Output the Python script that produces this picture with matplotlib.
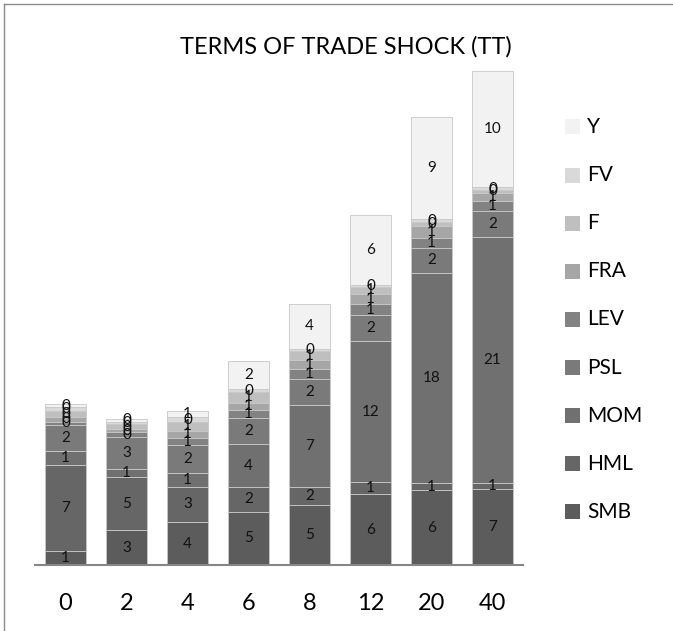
import matplotlib
matplotlib.use('Agg')
import matplotlib.pyplot as plt
from matplotlib.patches import Rectangle
from matplotlib.lines import Line2D

plt.rcParams['font.family'] = ['Lato', 'DejaVu Sans']

# horizons
periods = ['0', '2', '4', '6', '8', '12', '20', '40']

# variance shares per factor
smb = [1.2, 3.0, 3.7, 4.6, 5.2, 6.1, 6.45, 6.55]
hml = [7.45, 4.6, 3.05, 2.15, 1.52, 1.03, 0.63, 0.55]
mom = [1.2, 0.64, 1.2, 3.65, 7.1, 12.2, 18.1, 21.2]
psl = [2.2, 2.76, 2.39, 2.24, 2.24, 2.18, 2.19, 2.2]
lev = [0.3, 0.43, 0.6, 0.72, 0.86, 0.98, 0.82, 0.9]
fra = [0.45, 0.29, 0.65, 0.63, 0.72, 0.91, 1.07, 0.7]
f = [0.45, 0.4, 0.7, 0.95, 0.8, 0.6, 0.31, 0.2]
fv = [0.35, 0.23, 0.45, 0.2, 0.2, 0.17, 0.25, 0.25]
y = [0.3, 0.23, 0.55, 2.44, 3.9, 5.96, 8.78, 10.0]

names = ['SMB', 'HML', 'MOM', 'PSL', 'LEV', 'FRA', 'F', 'FV', 'Y']
series = [smb, hml, mom, psl, lev, fra, f, fv, y]
colors = ['#5c5c5c', '#666666', '#707070', '#7a7a7a', '#828282',
          '#a6a6a6', '#bfbfbf', '#d9d9d9', '#f2f2f2']

W, H = 673, 631
fig = plt.figure(figsize=(W / 100, H / 100), dpi=100)
ax = fig.add_axes([35 / W, (H - 565) / H, 488 / W, 522 / H])

x = list(range(len(periods)))
bottom = [0] * len(periods)
for vals, name, c in zip(series, names, colors):
    bars = ax.bar(x, vals, width=0.667, bottom=bottom, color=c,
                  edgecolor='#c8c8c8', linewidth=0.6, label=name)
    ax.bar_label(bars, fmt='%.0f', label_type='center', fontsize=11, color='#111111')
    bottom = [b + v for b, v in zip(bottom, vals)]

ax.set_xlim(-0.5, 7.5)
ax.set_ylim(0, 45)
ax.set_xticks(x)
ax.set_xticklabels(periods, fontsize=17)
ax.tick_params(axis='x', length=0, pad=20)
ax.set_yticks([])
for s in ['left', 'right', 'top']:
    ax.spines[s].set_visible(False)
ax.spines['bottom'].set_color('#868686')
ax.spines['bottom'].set_linewidth(1.5)

fig.text(346 / W, 1 - 47 / H, 'TERMS OF TRADE SHOCK (TT)', ha='center', va='center', fontsize=17)

# legend, Y on top
for i, (name, c) in enumerate(zip(names[::-1], colors[::-1])):
    yc = 127 + 48.1 * i
    fig.add_artist(Rectangle((565 / W, 1 - (yc + 7.5) / H), 15 / W, 15 / H,
                             transform=fig.transFigure, facecolor=c, edgecolor='none'))
    fig.text(587 / W, 1 - yc / H, name, ha='left', va='center', fontsize=15)

# chart frame
fig.add_artist(Line2D([3.5 / W, 3.5 / W], [0, 1 - 3.5 / H], color='#8c8c8c', lw=1))
fig.add_artist(Line2D([3.5 / W, 1], [1 - 3.5 / H, 1 - 3.5 / H], color='#8c8c8c', lw=1))

fig.savefig('out.png', dpi=100)
